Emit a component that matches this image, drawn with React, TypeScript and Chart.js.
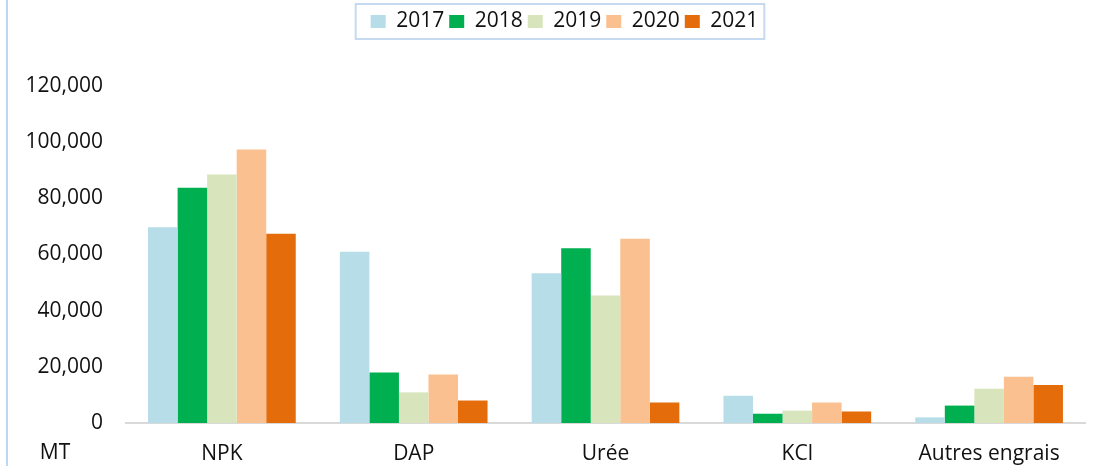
import React, { useEffect, useRef } from "react";
import { Chart, registerables } from "chart.js";

Chart.register(...registerables);

const categories = ["NPK", "DAP", "Urée", "KCl", "Autres engrais"];
const years = ["2017", "2018", "2019", "2020", "2021"];
const values2017 = [69700, 61000, 53300, 9700, 2000];
const values2018 = [83800, 18000, 62200, 3300, 6200];
const values2019 = [88500, 10900, 45400, 4400, 12200];
const values2020 = [97400, 17300, 65600, 7300, 16500];
const values2021 = [67400, 8000, 7300, 4100, 13500];
const colors = ["#b7dde8", "#00b050", "#d8e4bc", "#fac090", "#e46c0a"];
const unitLabel = "MT";

const FONT = "'Open Sans', 'DejaVu Sans', sans-serif";
const TEXT = "#111111";
const FS = 21;

export default function App() {
  const ref = useRef<HTMLCanvasElement | null>(null);

  useEffect(() => {
    if (!ref.current) return;
    const series = [values2017, values2018, values2019, values2020, values2021];

    const legendTweak = {
      id: "legendTweak",
      beforeInit(chart: any) {
        const orig = chart.legend.fit;
        chart.legend.fit = function () {
          orig.bind(chart.legend)();
          this.height = 80;
        };
      },
      afterLayout(chart: any) {
        const lg = chart.legend;
        lg.left += 22;
        lg.right += 22;
      },
    };

    const decorations = {
      id: "decorations",
      afterDraw(chart: any) {
        const ctx = chart.ctx;
        ctx.save();
        ctx.strokeStyle = "#bdd7ee";
        ctx.lineWidth = 2;
        ctx.beginPath();
        ctx.moveTo(7, 0);
        ctx.lineTo(7, chart.height);
        ctx.stroke();
        const boxes = chart.legend.legendHitBoxes;
        if (boxes && boxes.length) {
          const first = boxes[0];
          const last = boxes[boxes.length - 1];
          const x0 = first.left - 15;
          const x1 = last.left + last.width + 6;
          ctx.strokeStyle = "#c5d9f1";
          ctx.lineWidth = 2;
          ctx.strokeRect(x0, 4, x1 - x0, 35);
        }
        ctx.fillStyle = TEXT;
        ctx.font = `${FS}px ${FONT}`;
        ctx.textAlign = "center";
        ctx.textBaseline = "middle";
        ctx.fillText(unitLabel, 55, 453);
        ctx.restore();
      },
    };

    const chart = new Chart(ref.current, {
      type: "bar",
      data: {
        labels: categories,
        datasets: years.map((y, i) => ({
          label: y,
          data: series[i],
          backgroundColor: colors[i],
          borderWidth: 0,
          categoryPercentage: 0.77,
          barPercentage: 1,
        })),
      },
      options: {
        animation: false,
        responsive: true,
        maintainAspectRatio: false,
        layout: { padding: { left: 0, right: 12, top: 6, bottom: 0 } },
        plugins: {
          tooltip: { enabled: false },
          legend: {
            position: "top",
            labels: {
              boxWidth: 15,
              boxHeight: 13,
              padding: 5,
              color: TEXT,
              font: { family: FONT, size: FS },
            },
          },
        },
        scales: {
          x: {
            afterFit(scale: any) {
              scale.height = 43;
            },
            grid: { display: false, drawTicks: false },
            border: { display: true, color: "#d9d9d9", width: 2 },
            ticks: {
              color: TEXT,
              padding: 18,
              font: { family: FONT, size: FS },
              maxRotation: 0,
              autoSkip: false,
            },
          },
          y: {
            min: 0,
            max: 120000,
            afterFit(scale: any) {
              scale.width = 126;
            },
            grid: { display: false, drawTicks: false },
            border: { display: false },
            ticks: {
              stepSize: 20000,
              color: TEXT,
              padding: 23,
              font: { family: FONT, size: FS },
              callback: (v: any) => Number(v).toLocaleString("en-US"),
            },
          },
        },
      },
      plugins: [legendTweak, decorations],
    });
    return () => chart.destroy();
  }, []);

  return (
    <div style={{ position: "fixed", left: 0, top: 0, width: 1097, height: 466, background: "#fff" }}>
      <canvas ref={ref} />
    </div>
  );
}
